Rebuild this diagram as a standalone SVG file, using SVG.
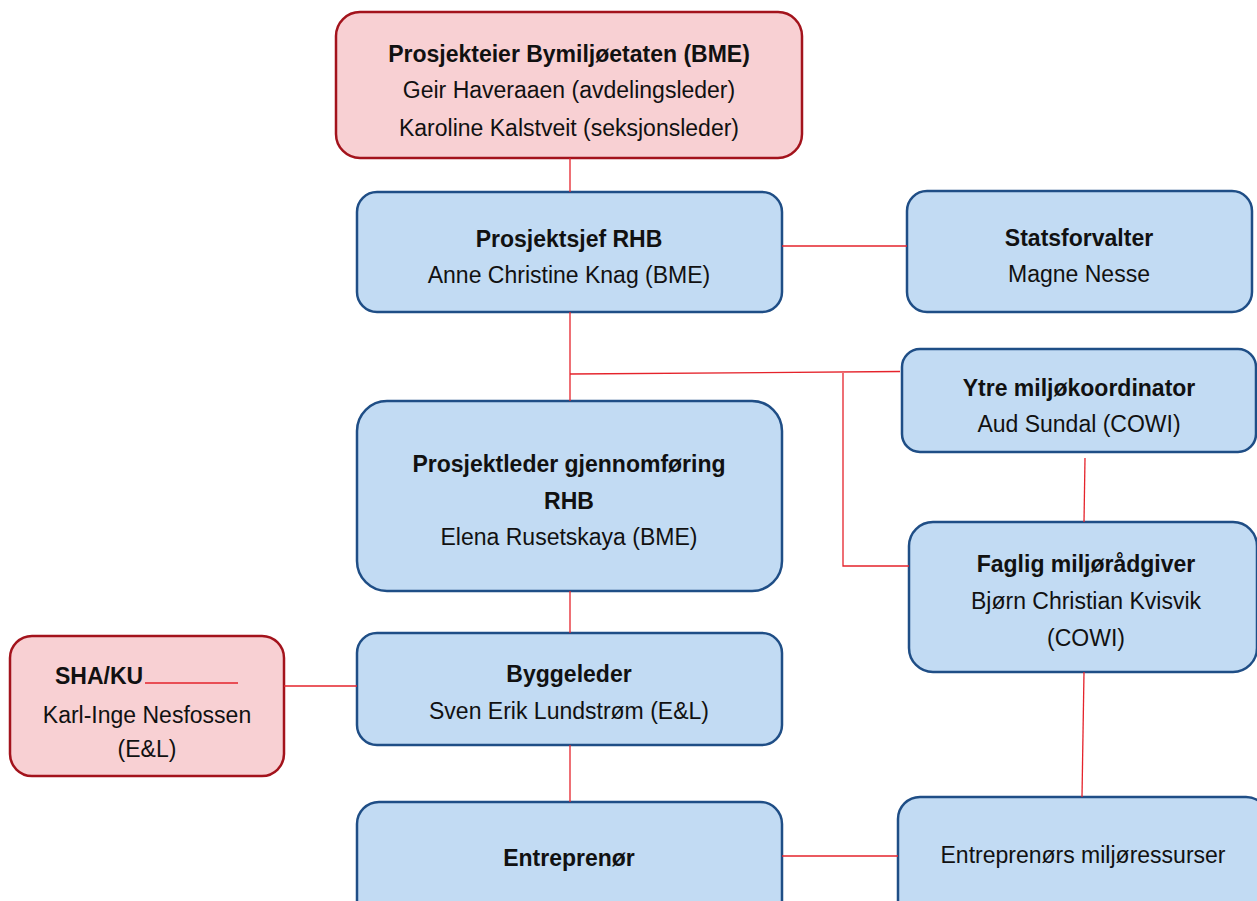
<svg xmlns="http://www.w3.org/2000/svg" width="1257" height="901" viewBox="0 0 1257 901">
<style>
.pink{fill:#f8d0d3;stroke:#a3131c;stroke-width:2.5}
.blue{fill:#c2dbf3;stroke:#1f4e86;stroke-width:2.5}
.t{font-family:"Liberation Sans",Arial,sans-serif;font-size:23px;fill:#111;text-anchor:middle}
.b{font-weight:bold}
.c{stroke:#e5232b;stroke-width:1.3;fill:none}
</style>
<rect width="1257" height="901" fill="#fff"/>
<g id="prosjekteier">
<rect class="pink" x="336" y="12" width="466" height="146" rx="24"/>
<text class="t b" x="569" y="62">Prosjekteier Bymiljøetaten (BME)</text>
<text class="t" x="569" y="98">Geir Haveraaen (avdelingsleder)</text>
<text class="t" x="569" y="136">Karoline Kalstveit (seksjonsleder)</text>
</g>
<g id="prosjektsjef">
<rect class="blue" x="357" y="192" width="425" height="120" rx="20"/>
<text class="t b" x="569" y="247">Prosjektsjef RHB</text>
<text class="t" x="569" y="283">Anne Christine Knag (BME)</text>
</g>
<g id="statsforvalter">
<rect class="blue" x="907" y="191" width="345" height="121" rx="20"/>
<text class="t b" x="1079" y="246">Statsforvalter</text>
<text class="t" x="1079" y="282">Magne Nesse</text>
</g>
<g id="ytre">
<rect class="blue" x="902" y="349" width="354" height="103" rx="18"/>
<text class="t b" x="1079" y="396">Ytre miljøkoordinator</text>
<text class="t" x="1079" y="432">Aud Sundal (COWI)</text>
</g>
<g id="prosjektleder">
<rect class="blue" x="357" y="401" width="425" height="190" rx="30"/>
<text class="t b" x="569" y="472">Prosjektleder gjennomføring</text>
<text class="t b" x="569" y="509">RHB</text>
<text class="t" x="569" y="545">Elena Rusetskaya (BME)</text>
</g>
<g id="faglig">
<rect class="blue" x="909" y="522" width="348" height="150" rx="24"/>
<text class="t b" x="1086" y="572">Faglig miljørådgiver</text>
<text class="t" x="1086" y="609">Bjørn Christian Kvisvik</text>
<text class="t" x="1086" y="646">(COWI)</text>
</g>
<g id="shaku">
<rect class="pink" x="10" y="636" width="274" height="140" rx="22"/>
<text class="t b" x="55" y="684" style="text-anchor:start">SHA/KU</text>
<text class="t" x="147" y="723">Karl-Inge Nesfossen</text>
<text class="t" x="147" y="757">(E&amp;L)</text>
</g>
<g id="byggeleder">
<rect class="blue" x="357" y="633" width="425" height="112" rx="20"/>
<text class="t b" x="569" y="682">Byggeleder</text>
<text class="t" x="569" y="719">Sven Erik Lundstrøm (E&amp;L)</text>
</g>
<g id="entreprenor">
<rect class="blue" x="357" y="802" width="425" height="120" rx="22"/>
<text class="t b" x="569" y="866">Entreprenør</text>
</g>
<g id="miljoressurser">
<rect class="blue" x="898" y="797" width="370" height="125" rx="22"/>
<text class="t" x="1083" y="863">Entreprenørs miljøressurser</text>
</g>
<g id="connectors">
<line class="c" x1="570" y1="158" x2="570" y2="192"/>
<line class="c" x1="782" y1="246" x2="907" y2="246"/>
<line class="c" x1="570" y1="312" x2="570" y2="401"/>
<line class="c" x1="570" y1="374" x2="900" y2="371.5"/>
<polyline class="c" points="843,373 843,566 909,566"/>
<line class="c" x1="1085" y1="458" x2="1084" y2="522"/>
<line class="c" x1="570" y1="591" x2="570" y2="633"/>
<line class="c" x1="284" y1="686" x2="357" y2="686"/>
<line class="c" x1="145" y1="683" x2="238" y2="683"/>
<line class="c" x1="570" y1="745" x2="570" y2="802"/>
<line class="c" x1="1084" y1="672" x2="1082" y2="797"/>
<line class="c" x1="782" y1="856" x2="898" y2="856"/>
</g>
</svg>
